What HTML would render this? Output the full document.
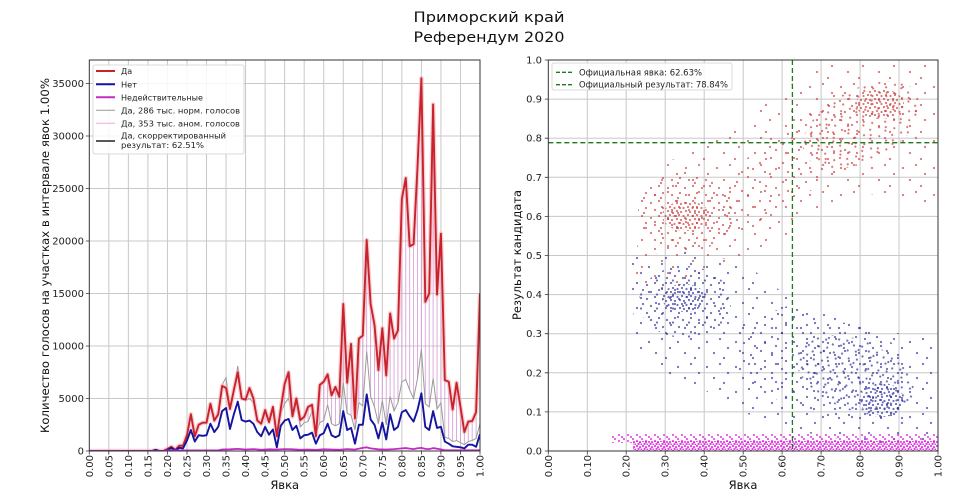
<!DOCTYPE html>
<html><head><meta charset="utf-8">
<style>
html,body{margin:0;padding:0;background:#fff;}
svg{display:block;}
text{font-family:"DejaVu Sans","Liberation Sans",sans-serif;}
</style></head>
<body>
<svg width="979" height="492" viewBox="0 0 979 492" xmlns="http://www.w3.org/2000/svg">
<rect width="979" height="492" fill="#fff"/>
<defs>
<clipPath id="cl"><rect x="89.3" y="60" width="390.7" height="391"/></clipPath>
<clipPath id="cr"><rect x="548.3" y="60" width="389.7" height="391"/></clipPath>
<!-- red patterns -->
<pattern id="rs" patternUnits="userSpaceOnUse" width="31" height="27"><g fill="#cc3b3b" fill-opacity="0.7"><circle cx="4" cy="6" r="1.1"/><circle cx="17" cy="3" r="1.1"/><circle cx="26" cy="12" r="1.1"/><circle cx="11" cy="18" r="1.1"/><circle cx="22" cy="24" r="1.1"/></g></pattern>
<pattern id="rs2" patternUnits="userSpaceOnUse" width="23" height="19" x="9" y="4"><g fill="#cc3b3b" fill-opacity="0.7"><circle cx="3" cy="2" r="1.1"/><circle cx="15" cy="7" r="1.1"/><circle cx="8" cy="13" r="1.1"/><circle cx="20" cy="16" r="1.1"/></g></pattern>
<pattern id="rm" patternUnits="userSpaceOnUse" width="17" height="15" x="3" y="5"><g fill="#cc3b3b" fill-opacity="0.7"><circle cx="2" cy="3" r="1.1"/><circle cx="10" cy="1" r="1.1"/><circle cx="14" cy="8" r="1.1"/><circle cx="6" cy="10" r="1.1"/><circle cx="12" cy="13" r="1.1"/></g></pattern>
<pattern id="rd" patternUnits="userSpaceOnUse" width="9" height="8" x="1" y="2"><g fill="#cc3b3b" fill-opacity="0.7"><circle cx="1" cy="1" r="1.1"/><circle cx="5" cy="2" r="1.1"/><circle cx="3" cy="5" r="1.1"/><circle cx="7.5" cy="6" r="1.1"/></g></pattern>
<!-- blue patterns -->
<pattern id="bs" patternUnits="userSpaceOnUse" width="29" height="25" x="7" y="11"><g fill="#2f2fa0" fill-opacity="0.7"><circle cx="4" cy="6" r="1.1"/><circle cx="17" cy="3" r="1.1"/><circle cx="25" cy="12" r="1.1"/><circle cx="11" cy="17" r="1.1"/><circle cx="21" cy="22" r="1.1"/></g></pattern>
<pattern id="bs2" patternUnits="userSpaceOnUse" width="21" height="18" x="2" y="7"><g fill="#2f2fa0" fill-opacity="0.7"><circle cx="3" cy="2" r="1.1"/><circle cx="14" cy="6" r="1.1"/><circle cx="7" cy="12" r="1.1"/><circle cx="18" cy="15" r="1.1"/></g></pattern>
<pattern id="bm" patternUnits="userSpaceOnUse" width="16" height="14" x="5" y="2"><g fill="#2f2fa0" fill-opacity="0.7"><circle cx="2" cy="3" r="1.1"/><circle cx="10" cy="1" r="1.1"/><circle cx="14" cy="8" r="1.1"/><circle cx="6" cy="10" r="1.1"/><circle cx="12" cy="12.5" r="1.1"/></g></pattern>
<pattern id="bd" patternUnits="userSpaceOnUse" width="9" height="8" x="4" y="3"><g fill="#2f2fa0" fill-opacity="0.7"><circle cx="1" cy="1" r="1.1"/><circle cx="5" cy="2" r="1.1"/><circle cx="3" cy="5" r="1.1"/><circle cx="7.5" cy="6" r="1.1"/></g></pattern>
<!-- magenta -->
<pattern id="md" patternUnits="userSpaceOnUse" width="6" height="5"><g fill="#e010e0" fill-opacity="0.8"><circle cx="1" cy="1" r="1.15"/><circle cx="4" cy="2.2" r="1.15"/><circle cx="2.5" cy="4" r="1.15"/><circle cx="5.5" cy="4.6" r="1.15"/></g></pattern>
<pattern id="ms" patternUnits="userSpaceOnUse" width="9" height="6" x="2"><g fill="#e010e0" fill-opacity="0.7"><circle cx="1" cy="1" r="1.1"/><circle cx="5" cy="3" r="1.1"/><circle cx="8" cy="5" r="1.1"/></g></pattern>
</defs>

<!-- Title -->
<text x="489" y="22" font-size="14" text-anchor="middle" fill="#111" textLength="151" lengthAdjust="spacingAndGlyphs">Приморский край</text>
<text x="489" y="42" font-size="14" text-anchor="middle" fill="#111" textLength="151" lengthAdjust="spacingAndGlyphs">Референдум 2020</text>

<!-- ================= LEFT ================= -->
<g clip-path="url(#cl)">
<g transform="translate(89.3,451) scale(3.907,-0.0105)" fill="none">
<path vector-effect="non-scaling-stroke" stroke="#c8c8c8" stroke-width="1" d="M5 0V37300M10 0V37300M15 0V37300M20 0V37300M25 0V37300M30 0V37300M35 0V37300M40 0V37300M45 0V37300M50 0V37300M55 0V37300M60 0V37300M65 0V37300M70 0V37300M75 0V37300M80 0V37300M85 0V37300M90 0V37300M95 0V37300M0 5000H100M0 10000H100M0 15000H100M0 20000H100M0 25000H100M0 30000H100M0 35000H100"/>
<path vector-effect="non-scaling-stroke" stroke="#d49ad4" stroke-opacity="0.9" stroke-width="0.9" d="M49 3600V4000M50 4500V6400M51 5000V7500M53 4600V5000M54 2300V2950M55 2700V3250M56 2800V4200M57 3800V4400M59 2700V6300M60 2900V6600M61 4400V7300M62 2600V5300M63 2400V6100M64 2600V5150M65 6500V14000M66 3600V6500M67 3400V10200M68 2000V3100M69 4600V10700M70 4300V11000M71 9500V20100M72 5200V14000M73 4200V12000M74 2600V7700M75 4800V11700M76 2500V7200M77 5200V13100M78 3800V10700M79 4600V11500M80 6600V24000M81 6800V26000M82 5800V19500M83 5000V19700M84 6900V27000M85 9700V35500M86 4500V14200M87 4200V15000M88 6900V33000M89 4000V14900M90 4600V20700M91 1300V6750M92 1200V6600M93 900V3950M94 1000V6500M95 800V4200M96 600V1800M97 900V2800M98 1000V2850M99 1200V3700M100 2600V15000"/>
<polyline vector-effect="non-scaling-stroke" stroke="#9a9a9a" stroke-width="1" points="0,0 16,0 17,100 18,0 19,0 20,200 21,400 22,100 23,500 24,500 25,1500 26,3500 27,1400 28,2500 29,2700 30,2700 31,4400 32,2900 33,3500 34,6300 35,7000 36,4000 37,5700 38,8100 39,5000 40,4800 41,5000 42,4600 43,2900 44,2600 45,3700 46,2700 47,3900 48,1400 49,3600 50,4500 51,5000 52,3200 53,4600 54,2300 55,2700 56,2800 57,3800 58,1700 59,2700 60,2900 61,4400 62,2600 63,2400 64,2600 65,6500 66,3600 67,3400 68,2000 69,4600 70,4300 71,9500 72,5200 73,4200 74,2600 75,4800 76,2500 77,5200 78,3800 79,4600 80,6600 81,6800 82,5800 83,5000 84,6900 85,9700 86,4500 87,4200 88,6900 89,4000 90,4600 91,1300 92,1200 93,900 94,1000 95,800 96,600 97,900 98,1000 99,1200 100,2600"/>
<polyline vector-effect="non-scaling-stroke" stroke="#f5b0b8" stroke-opacity="0.6" stroke-width="4.5" stroke-linejoin="round" points="0,0 16,0 17,100 18,0 19,0 20,200 21,400 22,100 23,500 24,500 25,1500 26,3500 27,1400 28,2500 29,2700 30,2700 31,4500 32,2900 33,3500 34,6200 35,6000 36,4000 37,5800 38,7500 39,5000 40,4900 41,6000 42,5000 43,2900 44,2600 45,3900 46,2750 47,4200 48,1400 49,4000 50,6400 51,7500 52,3300 53,5000 54,2950 55,3250 56,4200 57,4400 58,1400 59,6300 60,6600 61,7300 62,5300 63,6100 64,5150 65,14000 66,6500 67,10200 68,3100 69,10700 70,11000 71,20100 72,14000 73,12000 74,7700 75,11700 76,7200 77,13100 78,10700 79,11500 80,24000 81,26000 82,19500 83,19700 84,27000 85,35500 86,14200 87,15000 88,33000 89,14900 90,20700 91,6750 92,6600 93,3950 94,6500 95,4200 96,1800 97,2800 98,2850 99,3700 100,15000"/>
<polyline vector-effect="non-scaling-stroke" stroke="#c8232c" stroke-width="1.9" stroke-linejoin="round" points="0,0 16,0 17,100 18,0 19,0 20,200 21,400 22,100 23,500 24,500 25,1500 26,3500 27,1400 28,2500 29,2700 30,2700 31,4500 32,2900 33,3500 34,6200 35,6000 36,4000 37,5800 38,7500 39,5000 40,4900 41,6000 42,5000 43,2900 44,2600 45,3900 46,2750 47,4200 48,1400 49,4000 50,6400 51,7500 52,3300 53,5000 54,2950 55,3250 56,4200 57,4400 58,1400 59,6300 60,6600 61,7300 62,5300 63,6100 64,5150 65,14000 66,6500 67,10200 68,3100 69,10700 70,11000 71,20100 72,14000 73,12000 74,7700 75,11700 76,7200 77,13100 78,10700 79,11500 80,24000 81,26000 82,19500 83,19700 84,27000 85,35500 86,14200 87,15000 88,33000 89,14900 90,20700 91,6750 92,6600 93,3950 94,6500 95,4200 96,1800 97,2800 98,2850 99,3700 100,15000"/>
<polyline vector-effect="non-scaling-stroke" stroke="#1414a0" stroke-width="1.9" stroke-linejoin="round" points="0,0 16,0 17,100 18,0 19,0 20,100 21,300 22,50 23,300 24,250 25,1000 26,2000 27,900 28,1500 29,1450 30,1500 31,2600 32,1800 33,2300 34,3800 35,4100 36,2100 37,3500 38,4700 39,2950 40,2800 41,2900 42,2600 43,1800 44,1400 45,2300 46,1550 47,2050 48,350 49,2400 50,2900 51,3050 52,2000 53,2400 54,1200 55,1500 56,1550 57,1750 58,700 59,1500 60,1700 61,2600 62,1500 63,1300 64,1500 65,3800 66,2000 67,2200 68,700 69,2500 70,2500 71,5400 72,3000 73,2500 74,1200 75,2700 76,1100 77,3500 78,2000 79,2300 80,3700 81,3900 82,3300 83,2800 84,3900 85,5500 86,2300 87,2000 88,3800 89,2200 90,2300 91,900 92,700 93,450 94,400 95,350 96,250 97,600 98,600 99,400 100,1600"/>
<polyline vector-effect="non-scaling-stroke" stroke="#c22cc2" stroke-width="1.8" stroke-linejoin="round" points="0,0 19,0 20,60 33,60 34,140 36,160 38,200 40,140 42,180 44,120 46,160 48,140 50,180 52,160 54,120 56,140 58,100 60,160 62,140 64,120 66,180 68,140 70,300 71,350 72,250 74,160 76,140 78,180 80,250 81,280 82,230 83,180 84,260 85,300 86,200 87,180 88,280 90,150 91,70 100,70"/>
</g>
</g>
<rect x="89.3" y="60" width="390.7" height="391" fill="none" stroke="#333" stroke-width="1"/>
<path stroke="#333" stroke-width="0.8" fill="none" d="M89.3 451v3.5M108.8 451v3.5M128.4 451v3.5M147.9 451v3.5M167.4 451v3.5M187 451v3.5M206.5 451v3.5M226 451v3.5M245.6 451v3.5M265.1 451v3.5M284.7 451v3.5M304.2 451v3.5M323.7 451v3.5M343.3 451v3.5M362.8 451v3.5M382.3 451v3.5M401.9 451v3.5M421.4 451v3.5M440.9 451v3.5M460.5 451v3.5M480 451v3.5M85.8 451h3.5M85.8 398.5h3.5M85.8 346h3.5M85.8 293.5h3.5M85.8 241h3.5M85.8 188.5h3.5M85.8 136h3.5M85.8 83.5h3.5"/>

<g font-size="10" fill="#222" text-anchor="end">
<text x="84" y="454.5">0</text>
<text x="84" y="402">5000</text>
<text x="84" y="349.5">10000</text>
<text x="84" y="297">15000</text>
<text x="84" y="244.5">20000</text>
<text x="84" y="192">25000</text>
<text x="84" y="139.5">30000</text>
<text x="84" y="87">35000</text>
</g>
<g font-size="10" fill="#222" text-anchor="end">
<text transform="translate(89.3,455) rotate(-90)" dy="3.5">0.00</text>
<text transform="translate(108.8,455) rotate(-90)" dy="3.5">0.05</text>
<text transform="translate(128.4,455) rotate(-90)" dy="3.5">0.10</text>
<text transform="translate(147.9,455) rotate(-90)" dy="3.5">0.15</text>
<text transform="translate(167.4,455) rotate(-90)" dy="3.5">0.20</text>
<text transform="translate(187.0,455) rotate(-90)" dy="3.5">0.25</text>
<text transform="translate(206.5,455) rotate(-90)" dy="3.5">0.30</text>
<text transform="translate(226.0,455) rotate(-90)" dy="3.5">0.35</text>
<text transform="translate(245.6,455) rotate(-90)" dy="3.5">0.40</text>
<text transform="translate(265.1,455) rotate(-90)" dy="3.5">0.45</text>
<text transform="translate(284.7,455) rotate(-90)" dy="3.5">0.50</text>
<text transform="translate(304.2,455) rotate(-90)" dy="3.5">0.55</text>
<text transform="translate(323.7,455) rotate(-90)" dy="3.5">0.60</text>
<text transform="translate(343.3,455) rotate(-90)" dy="3.5">0.65</text>
<text transform="translate(362.8,455) rotate(-90)" dy="3.5">0.70</text>
<text transform="translate(382.3,455) rotate(-90)" dy="3.5">0.75</text>
<text transform="translate(401.9,455) rotate(-90)" dy="3.5">0.80</text>
<text transform="translate(421.4,455) rotate(-90)" dy="3.5">0.85</text>
<text transform="translate(440.9,455) rotate(-90)" dy="3.5">0.90</text>
<text transform="translate(460.5,455) rotate(-90)" dy="3.5">0.95</text>
<text transform="translate(480.0,455) rotate(-90)" dy="3.5">1.00</text>
</g>
<text x="284.7" y="489" font-size="11.5" text-anchor="middle" fill="#111">Явка</text>
<text transform="translate(45,255.5) rotate(-90)" dy="4" font-size="11.5" text-anchor="middle" fill="#111" textLength="355" lengthAdjust="spacingAndGlyphs">Количество голосов на участках в интервале явок 1.00%</text>

<!-- LEFT legend -->
<rect x="93" y="65" width="151" height="89" rx="2" fill="#fff" fill-opacity="0.85" stroke="#cfcfcf" stroke-width="0.8"/>
<line x1="96" y1="71" x2="115" y2="71" stroke="#c8232c" stroke-width="2"/>
<line x1="96" y1="84.3" x2="115" y2="84.3" stroke="#1414a0" stroke-width="2"/>
<line x1="96" y1="97.3" x2="115" y2="97.3" stroke="#c22cc2" stroke-width="2"/>
<line x1="96" y1="110.3" x2="115" y2="110.3" stroke="#999" stroke-width="1"/>
<line x1="96" y1="123.3" x2="115" y2="123.3" stroke="#f0a8dc" stroke-width="1"/>
<line x1="96" y1="141" x2="115" y2="141" stroke="#222" stroke-width="1.5"/>
<g font-size="8" fill="#222">
<text x="121" y="74">Да</text>
<text x="121" y="87.3" textLength="16" lengthAdjust="spacingAndGlyphs">Нет</text>
<text x="121" y="100.3" textLength="82" lengthAdjust="spacingAndGlyphs">Недействительные</text>
<text x="121" y="113.3" textLength="119" lengthAdjust="spacingAndGlyphs">Да, 286 тыс. норм. голосов</text>
<text x="121" y="126.3" textLength="119" lengthAdjust="spacingAndGlyphs">Да, 353 тыс. аном. голосов</text>
<text x="121" y="138.7" textLength="105" lengthAdjust="spacingAndGlyphs">Да, скорректированный</text>
<text x="121" y="148" textLength="83" lengthAdjust="spacingAndGlyphs">результат: 62.51%</text>
</g>

<!-- ================= RIGHT ================= -->
<path stroke="#c8c8c8" stroke-width="1" fill="none" d="M587.3 60V451M626.2 60V451M665.2 60V451M704.2 60V451M743.2 60V451M782.1 60V451M821.1 60V451M860.1 60V451M899 60V451M548.3 411.9H938M548.3 372.8H938M548.3 333.7H938M548.3 294.6H938M548.3 255.5H938M548.3 216.4H938M548.3 177.3H938M548.3 138.2H938M548.3 99.1H938"/>

<g clip-path="url(#cr)">
<!-- red -->
<polygon fill="url(#rs)" points="630,275 645,215 660,165 700,148 743,122 782,90 821,66 860,62 938,62 938,216 900,200 860,192 821,210 782,238 743,262 704,278 665,290 636,294"/>
<polygon fill="url(#rs2)" points="715,205 745,160 790,120 830,95 862,88 862,165 820,185 780,210 745,235 715,245"/>
<ellipse fill="url(#rm)" cx="686" cy="212" rx="48" ry="40"/>
<ellipse fill="url(#rd)" cx="686" cy="216" rx="24" ry="15"/>
<ellipse fill="url(#rm)" cx="862" cy="125" rx="64" ry="36" transform="rotate(-28 862 125)"/>
<ellipse fill="url(#rd)" cx="880" cy="104" rx="24" ry="15"/>
<!-- blue -->
<polygon fill="url(#bs)" points="630,258 680,250 743,262 782,292 821,318 880,330 938,340 938,445 860,443 782,428 743,412 704,390 665,374 636,354"/>
<polygon fill="url(#bs2)" points="738,325 790,305 850,320 905,350 905,420 840,422 780,402 738,372"/>
<ellipse fill="url(#bm)" cx="685" cy="302" rx="46" ry="36"/>
<ellipse fill="url(#bd)" cx="684" cy="298" rx="22" ry="14"/>
<ellipse fill="url(#bm)" cx="855" cy="375" rx="62" ry="35" transform="rotate(22 855 375)"/>
<ellipse fill="url(#bd)" cx="882" cy="400" rx="22" ry="17"/>
<!-- magenta -->
<rect fill="url(#ms)" x="612" y="434" width="326" height="9"/>
<rect fill="url(#md)" x="633" y="441" width="305" height="10"/>
</g>

<g stroke="#1f7a1f" stroke-width="1.3" stroke-dasharray="5,3" fill="none">
<line x1="792.4" y1="60" x2="792.4" y2="451"/>
<line x1="548.3" y1="142.7" x2="938" y2="142.7"/>
</g>
<rect x="548.3" y="60" width="389.7" height="391" fill="none" stroke="#333" stroke-width="1"/>
<path stroke="#333" stroke-width="0.8" fill="none" d="M548.3 451v3.5M587.3 451v3.5M626.2 451v3.5M665.2 451v3.5M704.2 451v3.5M743.2 451v3.5M782.1 451v3.5M821.1 451v3.5M860.1 451v3.5M899 451v3.5M938 451v3.5M544.8 451h3.5M544.8 411.9h3.5M544.8 372.8h3.5M544.8 333.7h3.5M544.8 294.6h3.5M544.8 255.5h3.5M544.8 216.4h3.5M544.8 177.3h3.5M544.8 138.2h3.5M544.8 99.1h3.5M544.8 60h3.5"/>

<g font-size="10" fill="#222" text-anchor="end">
<text x="542" y="454.5">0.0</text>
<text x="542" y="415.4">0.1</text>
<text x="542" y="376.3">0.2</text>
<text x="542" y="337.2">0.3</text>
<text x="542" y="298.1">0.4</text>
<text x="542" y="259">0.5</text>
<text x="542" y="219.9">0.6</text>
<text x="542" y="180.8">0.7</text>
<text x="542" y="141.7">0.8</text>
<text x="542" y="102.6">0.9</text>
<text x="542" y="63.5">1.0</text>
</g>
<g font-size="10" fill="#222" text-anchor="end">
<text transform="translate(548.3,455) rotate(-90)" dy="3.5">0.00</text>
<text transform="translate(587.3,455) rotate(-90)" dy="3.5">0.10</text>
<text transform="translate(626.2,455) rotate(-90)" dy="3.5">0.20</text>
<text transform="translate(665.2,455) rotate(-90)" dy="3.5">0.30</text>
<text transform="translate(704.2,455) rotate(-90)" dy="3.5">0.40</text>
<text transform="translate(743.2,455) rotate(-90)" dy="3.5">0.50</text>
<text transform="translate(782.1,455) rotate(-90)" dy="3.5">0.60</text>
<text transform="translate(821.1,455) rotate(-90)" dy="3.5">0.70</text>
<text transform="translate(860.1,455) rotate(-90)" dy="3.5">0.80</text>
<text transform="translate(899.0,455) rotate(-90)" dy="3.5">0.90</text>
<text transform="translate(938.0,455) rotate(-90)" dy="3.5">1.00</text>
</g>
<text x="743" y="489" font-size="11.5" text-anchor="middle" fill="#111">Явка</text>
<text transform="translate(517,255) rotate(-90)" dy="4" font-size="11.5" text-anchor="middle" fill="#111" textLength="130" lengthAdjust="spacingAndGlyphs">Результат кандидата</text>

<!-- RIGHT legend -->
<rect x="552" y="63" width="180" height="27" rx="2" fill="#fff" fill-opacity="0.85" stroke="#cfcfcf" stroke-width="0.8"/>
<g stroke="#1f7a1f" stroke-width="1.3" stroke-dasharray="4,2">
<line x1="556" y1="72.3" x2="572" y2="72.3"/>
<line x1="556" y1="84.7" x2="572" y2="84.7"/>
</g>
<g font-size="8.5" fill="#222">
<text x="579" y="75.3" textLength="123" lengthAdjust="spacingAndGlyphs">Официальная явка: 62.63%</text>
<text x="579" y="87.7" textLength="149" lengthAdjust="spacingAndGlyphs">Официальный результат: 78.84%</text>
</g>
</svg>
</body></html>
